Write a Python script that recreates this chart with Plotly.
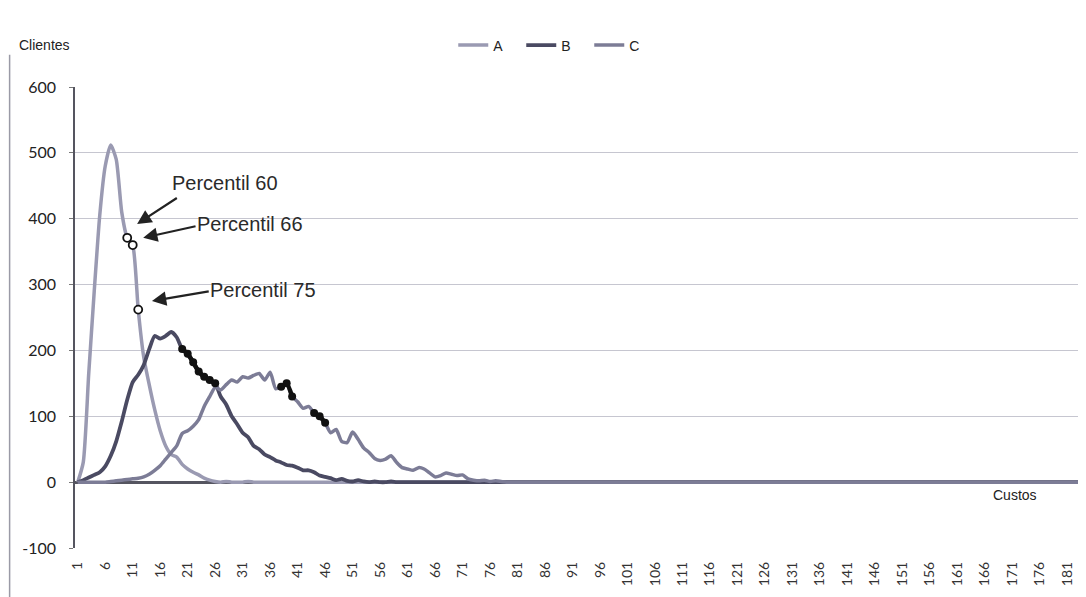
import plotly.graph_objects as go

# ---------------- data ----------------
categories = list(range(1, 184))
tick_labels = [str(v) for v in range(1, 182, 5)]
y_tick_values = [-100, 0, 100, 200, 300, 400, 500, 600]
y_tick_labels = ["-100", "0", "100", "200", "300", "400", "500", "600"]

Z20 = [0, 0, 0, 0, 0, 0, 0, 0, 0, 0, 0, 0, 0, 0, 0, 0, 0, 0, 0, 0]

series_A = ([0, 30, 165, 290, 405, 480, 512, 490, 410, 371,
             360, 262, 190, 148, 110, 78, 55, 42, 38, 27,
             20, 15, 11, 6, 3, 1, 0, 1, 0, 0,
             0, 1, 0, 0, 0, 0, 0, 0, 0, 0]
            + Z20 * 7 + [0, 0, 0])

series_B = ([0, 3, 7, 11, 15, 24, 40, 62, 92, 125,
             152, 163, 178, 202, 222, 218, 222, 228, 220, 202,
             195, 182, 168, 160, 155, 150, 130, 118, 100, 88,
             75, 68, 55, 50, 42, 38, 33, 30, 26, 25,
             22, 18, 18, 15, 10, 8, 6, 3, 5, 2,
             1, 3, 1, 0, 1, 0, 0, 1, 0, 0]
            + Z20 * 6 + [0, 0, 0])

series_C = ([0, 0, 0, 0, 0, 0, 1, 2, 3, 4,
             5, 6, 8, 12, 18, 25, 35, 45, 55, 74,
             78, 85, 95, 115, 130, 144, 140, 148, 155, 152,
             160, 158, 162, 165, 155, 167, 142, 145, 150, 130,
             122, 112, 115, 105, 100, 90, 75, 80, 62, 60,
             76, 65, 52, 45, 36, 33, 35, 40, 30, 22,
             20, 18, 22, 20, 14, 8, 10, 14, 12, 10,
             11, 5, 3, 2, 3, 1, 2, 1, 0, 0]
            + Z20 * 5 + [0, 0, 0])

# percentile points (categories) on series A
percentile_cats = [10, 11, 12]
percentile_labels = ["Percentil 60", "Percentil 66", "Percentil 75"]
# highlighted (black) stretches
highlight_B = [20, 21, 22, 23, 24, 25, 26]
highlight_C1 = [38, 39, 40]
highlight_C2 = [44, 45, 46]

# ---------------- styles ----------------
col_A = "#9a9ab2"
col_B = "#4a4a62"
col_C = "#7c7c96"
FONT = "Liberation Sans"

fig = go.Figure()
for name, ys, col, w in [("A", series_A, col_A, 3.5),
                         ("B", series_B, col_B, 3.8),
                         ("C", series_C, col_C, 3.5)]:
    fig.add_trace(go.Scatter(x=categories, y=ys, mode="lines", name=name,
                             line=dict(color=col, width=w, shape="spline", smoothing=0.6)))

def pick(series, cats):
    return [series[c - 1] for c in cats]

for series, cats in [(series_B, highlight_B), (series_C, highlight_C1), (series_C, highlight_C2)]:
    fig.add_trace(go.Scatter(x=cats, y=pick(series, cats), mode="lines+markers",
                             showlegend=False, hoverinfo="skip",
                             line=dict(color="#111111", width=4.5, shape="spline", smoothing=0.6),
                             marker=dict(color="#111111", size=8, symbol="circle")))

fig.add_trace(go.Scatter(x=percentile_cats, y=pick(series_A, percentile_cats), mode="markers",
                         showlegend=False, hoverinfo="skip",
                         marker=dict(color="white", size=8, symbol="circle",
                                     line=dict(color="#111111", width=1.8))))

# arrows + labels for the percentiles
arrows = [  # (head_x, head_y, tail_x, tail_y, text_x, text_y)
    (11.8, 392, 19.3, 433, 27.8, 454),
    (12.9, 371, 22.7, 389, 32.3, 392),
    (14.5, 275, 25.1, 290, 34.7, 292),
]
annotations = []
for (hx, hy, tx, ty, lx, ly), lab in zip(arrows, percentile_labels):
    annotations.append(dict(x=hx, y=hy, ax=tx, ay=ty, xref="x", yref="y", axref="x", ayref="y",
                            text="", showarrow=True, arrowhead=2, arrowsize=1.3,
                            arrowwidth=2.2, arrowcolor="#222222"))
    annotations.append(dict(x=lx, y=ly, xref="x", yref="y", text=lab, showarrow=False,
                            font=dict(family=FONT, size=20, color="#2a2a2a")))

annotations.append(dict(x=-0.03, y=1.091, xref="paper", yref="paper", text="Clientes",
                        xanchor="center", yanchor="middle",
                        showarrow=False, font=dict(family=FONT, size=14, color="#222222")))
annotations.append(dict(x=0.934, y=0.115, xref="paper", yref="paper", text="Custos",
                        xanchor="center", yanchor="middle",
                        showarrow=False, font=dict(family=FONT, size=14, color="#222222")))

# page body has an 8px default margin, so the figure is made 8px smaller
fig.update_layout(
    width=1078, height=589,
    margin=dict(l=67, r=5, t=79, b=49, autoexpand=False),
    paper_bgcolor="white", plot_bgcolor="white",
    showlegend=True,
    legend=dict(orientation="h", x=0.376, y=1.09, xanchor="left", yanchor="middle",
                font=dict(family=FONT, size=14, color="#222222"),
                bgcolor="rgba(0,0,0,0)", itemwidth=30,
                entrywidth=23, entrywidthmode="pixels"),
    annotations=annotations,
    shapes=[dict(type="line", xref="paper", yref="paper", x0=-0.065, x1=-0.065,
                 y0=-0.11, y1=1.07, line=dict(color="#9a9aa6", width=1.5))],
)
fig.update_xaxes(range=[0.5, 183.5], tickmode="array", automargin=False,
                 tickvals=list(range(1, 182, 5)), ticktext=tick_labels,
                 tickangle=-90, showgrid=False, zeroline=False, showline=False,
                 ticks="", ticklabelstandoff=10,
                 tickfont=dict(family="Lato", size=14, color="#333333"))
fig.update_yaxes(range=[-100, 600], tickmode="array", tickvals=y_tick_values,
                 ticktext=y_tick_labels, showgrid=True, gridcolor="#c6c6d0",
                 automargin=False,
                 gridwidth=1.2, zeroline=True, zerolinecolor="#555560", zerolinewidth=2.5,
                 showline=True, linecolor="#555560", linewidth=1.5,
                 ticks="outside", ticklen=4, tickcolor="#777777", ticklabelstandoff=10,
                 tickfont=dict(family="Lato", size=16, color="#222222"))

fig.write_html("out.html")
